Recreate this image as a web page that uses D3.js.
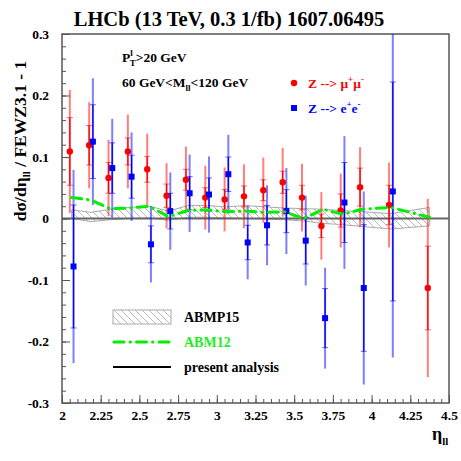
<!DOCTYPE html>
<html>
<head>
<meta charset="utf-8">
<script src="https://cdn.jsdelivr.net/npm/d3@7"></script>
<style>
  body { margin: 0; background: #fff; }
  text { font-family: "Liberation Serif", "Times New Roman", serif; font-weight: bold; }
</style>
</head>
<body>
<div id="chart"></div>
<script>

// bin centres in eta_ll
var binCentres = [2.0625, 2.1875, 2.3125, 2.4375, 2.5625, 2.6875, 2.8125, 2.9375, 3.0625,
                  3.1875, 3.3125, 3.4375, 3.5625, 3.6875, 3.8125, 3.9375, 4.125, 4.375];

// Z -> mu mu
var muVal   = [0.109, 0.119, 0.066, 0.109, 0.080, 0.037, 0.063, 0.034, 0.031,
               0.036, 0.046, 0.059, 0.034, -0.012, 0.013, 0.051, 0.022, -0.113];
var muStat  = [0.055, 0.032, 0.025, 0.022, 0.021, 0.019, 0.017, 0.016, 0.016,
               0.017, 0.017, 0.018, 0.020, 0.019, 0.027, 0.031, 0.032, 0.068];
var muTot   = [0.100, 0.070, 0.062, 0.060, 0.058, 0.053, 0.054, 0.052, 0.052,
               0.052, 0.053, 0.056, 0.055, 0.055, 0.060, 0.065, 0.069, 0.145];

// Z -> e e
var eVal    = [-0.078, 0.125, 0.082, 0.068, -0.042, 0.012, 0.041, 0.039, 0.072,
               -0.039, -0.011, 0.012, -0.036, -0.162, 0.026, -0.113, 0.044, null];
var eStat   = [0.100, 0.060, 0.041, 0.035, 0.030, 0.029, 0.027, 0.027, 0.028,
               0.028, 0.032, 0.035, 0.038, 0.048, 0.065, 0.103, 0.178, null];
var eTot    = [0.157, 0.103, 0.080, 0.072, 0.062, 0.063, 0.063, 0.062, 0.064,
               0.060, 0.065, 0.070, 0.073, 0.082, 0.108, 0.157, 0.270, null];

// ABM12 prediction
var abm12   = [0.034, 0.030, 0.016, 0.017, 0.020, 0.003, 0.013, 0.014, 0.011,
               0.012, 0.010, 0.011, 0.000, 0.015, 0.007, 0.015, 0.018, 0.002];

// ABMP15 band
var abmp15Up = [0.014, 0.010, 0.015, 0.018, 0.020, 0.012, 0.021, 0.021, 0.019,
                0.021, 0.019, 0.017, 0.016, 0.015, 0.013, 0.011, 0.008, 0.018];
var abmp15Lo = [0.000, -0.005, -0.002, 0.000, 0.001, -0.003, 0.002, 0.002, 0.001,
                0.000, -0.001, -0.002, -0.004, -0.008, -0.010, -0.013, -0.017, -0.012];

var xTicks = [2, 2.25, 2.5, 2.75, 3, 3.25, 3.5, 3.75, 4, 4.25, 4.5];
var xTickLabels = ["2", "2.25", "2.5", "2.75", "3", "3.25", "3.5", "3.75", "4", "4.25", "4.5"];
var yTicks = [-0.3, -0.2, -0.1, 0, 0.1, 0.2, 0.3];
var yTickLabels = ["-0.3", "-0.2", "-0.1", "0", "0.1", "0.2", "0.3"];

var W = 461, H = 461;
var margin = {top: 34, right: 12, bottom: 58, left: 62};
var width = W - margin.left - margin.right,
    height = H - margin.top - margin.bottom;

var svg = d3.select("#chart").append("svg")
    .attr("width", W)
    .attr("height", H);

var defs = svg.append("defs");
var pat = defs.append("pattern")
    .attr("id", "hatch")
    .attr("patternUnits", "userSpaceOnUse")
    .attr("width", 7).attr("height", 7);
pat.append("path")
    .attr("d", "M0,0 L7,7 M-1,6 L1,8 M6,-1 L8,1")
    .attr("stroke", "#aaa").attr("stroke-width", 0.8);

defs.append("clipPath").attr("id", "clip")
    .append("rect").attr("width", width).attr("height", height);

var x = d3.scaleLinear().domain([2, 4.5]).range([0, width]);
var y = d3.scaleLinear().domain([-0.3, 0.3]).range([height, 0]);

var g = svg.append("g")
    .attr("transform", "translate(" + margin.left + "," + margin.top + ")");

// frame
g.append("rect")
    .attr("width", width).attr("height", height)
    .attr("fill", "none").attr("stroke", "#555").attr("stroke-width", 1.5);

var plot = g.append("g").attr("clip-path", "url(#clip)");

var bandData = binCentres.map(function(c, i) { return {x: c, up: abmp15Up[i], lo: abmp15Lo[i]}; });

// ABMP15 hatched band
plot.append("path")
    .datum(bandData)
    .attr("d", d3.area()
          .x(function(d) { return x(d.x); })
          .y0(function(d) { return y(d.lo); })
          .y1(function(d) { return y(d.up); }))
    .attr("fill", "url(#hatch)")
    .attr("stroke", "#aaa").attr("stroke-width", 1);

// present analysis (zero line)
plot.append("line")
    .attr("x1", 0).attr("x2", width)
    .attr("y1", y(0)).attr("y2", y(0))
    .attr("stroke", "#666").attr("stroke-width", 2);

// data points
function drawSeries(vals, stat, tot, colour, shift, square) {
    var pts = [];
    binCentres.forEach(function(c, i) {
        if (vals[i] === null) return;
        pts.push({x: c + shift, v: vals[i], s: stat[i], t: tot[i]});
    });
    var s = plot.append("g");
    s.selectAll("line.tot").data(pts).enter().append("line")
        .attr("class", "tot")
        .attr("x1", function(d) { return x(d.x); })
        .attr("x2", function(d) { return x(d.x); })
        .attr("y1", function(d) { return y(d.v + d.t); })
        .attr("y2", function(d) { return y(d.v - d.t); })
        .attr("stroke", colour).attr("stroke-opacity", 0.5).attr("stroke-width", 2);
    s.selectAll("line.stat").data(pts).enter().append("line")
        .attr("class", "stat")
        .attr("x1", function(d) { return x(d.x); })
        .attr("x2", function(d) { return x(d.x); })
        .attr("y1", function(d) { return y(d.v + d.s); })
        .attr("y2", function(d) { return y(d.v - d.s); })
        .attr("stroke", colour).attr("stroke-width", 1.3);
    [1, -1].forEach(function(sign) {
        s.selectAll("line.tick" + sign).data(pts).enter().append("line")
            .attr("x1", function(d) { return x(d.x) - 3; })
            .attr("x2", function(d) { return x(d.x) + 3; })
            .attr("y1", function(d) { return y(d.v + sign * d.s); })
            .attr("y2", function(d) { return y(d.v + sign * d.s); })
            .attr("stroke", colour).attr("stroke-opacity", 0.6).attr("stroke-width", 1);
    });
    if (square) {
        s.selectAll("rect").data(pts).enter().append("rect")
            .attr("x", function(d) { return x(d.x) - 3; })
            .attr("y", function(d) { return y(d.v) - 3; })
            .attr("width", 6).attr("height", 6)
            .attr("fill", colour);
    } else {
        s.selectAll("circle").data(pts).enter().append("circle")
            .attr("cx", function(d) { return x(d.x); })
            .attr("cy", function(d) { return y(d.v); })
            .attr("r", 3.2)
            .attr("fill", colour);
    }
}

drawSeries(muVal, muStat, muTot, "#ff0000", -0.012, false);
drawSeries(eVal, eStat, eTot, "#0000ff", 0.012, true);

// ABM12 dash-dot
plot.append("path")
    .datum(binCentres.map(function(c, i) { return {x: c, v: abm12[i]}; }))
    .attr("d", d3.line()
          .x(function(d) { return x(d.x); })
          .y(function(d) { return y(d.v); }))
    .attr("fill", "none")
    .attr("stroke", "#00ee00").attr("stroke-width", 3)
    .attr("stroke-linecap", "round")
    .attr("stroke-dasharray", "10,6,0.5,6");

// axes
var yAxis = g.append("g")
    .call(d3.axisLeft(y).tickValues(yTicks)
          .tickFormat(function(d, i) { return yTickLabels[i]; })
          .tickSize(-8).tickPadding(13));
var yMinor = g.append("g")
    .call(d3.axisLeft(y).tickValues(d3.range(-0.3, 0.3001, 0.02))
          .tickFormat("").tickSize(-4));
var xAxis = g.append("g")
    .attr("transform", "translate(0," + height + ")")
    .call(d3.axisBottom(x).tickValues(xTicks)
          .tickFormat(function(d, i) { return xTickLabels[i]; })
          .tickSize(-8).tickPadding(7));
var xMinor = g.append("g")
    .attr("transform", "translate(0," + height + ")")
    .call(d3.axisBottom(x).tickValues(d3.range(2, 4.5001, 0.05))
          .tickFormat("").tickSize(-4));

[yAxis, yMinor, xAxis, xMinor].forEach(function(a) {
    a.select(".domain").remove();
    a.selectAll(".tick line").attr("stroke", "#555");
    a.selectAll("text")
        .attr("font-family", "Liberation Serif, Times New Roman, serif")
        .attr("font-weight", "bold")
        .attr("font-size", 13.5)
        .attr("fill", "#000");
});

// title
svg.append("text")
    .attr("x", 229).attr("y", 26)
    .attr("text-anchor", "middle")
    .attr("font-size", 20.5)
    .text("LHCb (13 TeV, 0.3 1/fb) 1607.06495");

// y title
var yt = svg.append("text")
    .attr("transform", "translate(26,141) rotate(-90)")
    .attr("text-anchor", "middle")
    .attr("font-size", 17.5);
yt.append("tspan").text("d\u03c3/d\u03b7");
yt.append("tspan").attr("font-size", 11).attr("dy", 4).text("ll");
yt.append("tspan").attr("dy", -4).text(" / FEWZ3.1 - 1");

// x title
var xt = svg.append("text")
    .attr("x", 432).attr("y", 440)
    .attr("font-size", 18);
xt.append("tspan").text("\u03b7");
xt.append("tspan").attr("font-size", 11).attr("dy", 5).text("ll");

// cut labels
var c1 = svg.append("text").attr("x", 122).attr("y", 62).attr("font-size", 13.5);
c1.append("tspan").text("P");
c1.append("tspan").attr("font-size", 9).attr("dy", -6).text("l");
c1.append("tspan").attr("font-size", 9).attr("dx", -3).attr("dy", 10).text("T");
c1.append("tspan").attr("dy", -4).text(">20 GeV");

var c2 = svg.append("text").attr("x", 122).attr("y", 87).attr("font-size", 13.5);
c2.append("tspan").text("60 GeV<M");
c2.append("tspan").attr("font-size", 9).attr("dy", 4).text("ll");
c2.append("tspan").attr("dy", -4).text("<120 GeV");

// channel legend
svg.append("circle").attr("cx", 294).attr("cy", 83).attr("r", 3.2).attr("fill", "#ff0000");
svg.append("rect").attr("x", 291).attr("y", 105).attr("width", 6).attr("height", 6).attr("fill", "#0000ff");

var l1 = svg.append("text").attr("x", 308).attr("y", 88).attr("font-size", 13.5).attr("fill", "#ff0000");
l1.append("tspan").text("Z --> \u03bc");
l1.append("tspan").attr("font-size", 9).attr("dy", -6).text("+");
l1.append("tspan").attr("dy", 6).text("\u03bc");
l1.append("tspan").attr("font-size", 9).attr("dy", -6).text("-");

var l2 = svg.append("text").attr("x", 308).attr("y", 113).attr("font-size", 13.5).attr("fill", "#0000ff");
l2.append("tspan").text("Z --> e");
l2.append("tspan").attr("font-size", 9).attr("dy", -6).text("+");
l2.append("tspan").attr("dy", 6).text("e");
l2.append("tspan").attr("font-size", 9).attr("dy", -6).text("-");

// model legend
svg.append("rect")
    .attr("x", 113).attr("y", 310).attr("width", 58).attr("height", 14)
    .attr("fill", "url(#hatch)").attr("stroke", "#aaa").attr("stroke-width", 1);
svg.append("text").attr("x", 184).attr("y", 322).attr("font-size", 14).text("ABMP15");

svg.append("line")
    .attr("x1", 114).attr("x2", 171).attr("y1", 342).attr("y2", 342)
    .attr("stroke", "#00ee00").attr("stroke-width", 3).attr("stroke-linecap", "round")
    .attr("stroke-dasharray", "10,6,0.5,6");
svg.append("text").attr("x", 184).attr("y", 347).attr("font-size", 14)
    .attr("fill", "#22ee22").text("ABM12");

svg.append("line")
    .attr("x1", 113).attr("x2", 171).attr("y1", 367).attr("y2", 367)
    .attr("stroke", "#000").attr("stroke-width", 2);
svg.append("text").attr("x", 184).attr("y", 372).attr("font-size", 14).text("present analysis");

</script>
</body>
</html>
